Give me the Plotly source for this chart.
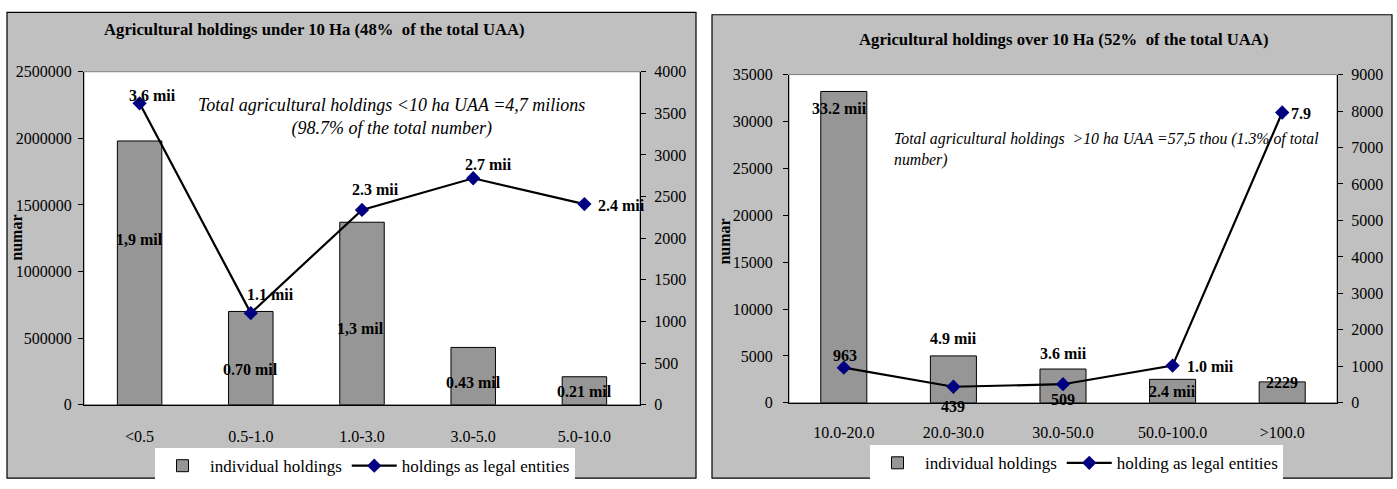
import plotly.graph_objects as go

# ---------------- data ----------------
left_categories = ["<0.5", "0.5-1.0", "1.0-3.0", "3.0-5.0", "5.0-10.0"]
left_individual = [1980000, 700000, 1370000, 430000, 210000]
left_individual_labels = ["1,9 mil", "0.70 mil", "1,3 mil", "0.43 mil", "0.21 mil"]
left_legal = [3620, 1100, 2340, 2720, 2410]
left_legal_labels = ["3.6 mii", "1.1 mii", "2.3 mii", "2.7 mii", "2.4 mii"]

right_categories = ["10.0-20.0", "20.0-30.0", "30.0-50.0", "50.0-100.0", ">100.0"]
right_individual = [33200, 5000, 3600, 2500, 2229]
right_individual_labels = ["33.2 mii", "4.9 mii", "3.6 mii", "2.4 mii", "2229"]
right_legal = [963, 439, 509, 1020, 7960]
right_legal_labels = ["963", "439", "509", "1.0 mii", "7.9"]

left_title = "Agricultural holdings under 10 Ha (48%  of the total UAA)"
right_title = "Agricultural holdings over 10 Ha (52%  of the total UAA)"
left_note = "Total agricultural holdings &lt;10 ha UAA =4,7 milions<br>(98.7% of the total number)"
right_note = "Total agricultural holdings  &gt;10 ha UAA =57,5 thou (1.3% of total<br>number)"

# ---------------- layout helpers (pixel -> paper) ----------------
W, H = 1397, 489
FONT = "Liberation Serif"


def px(x):
    return x / W


def py(y):
    return 1 - y / H


# label offsets (pixels) -- styling only
left_bar_shift = [(0, -99), (0, -58), (-2, -106), (0, -35), (0, -15)]
left_line_shift = [(13, 8), (20, 19), (13, 20), (15, 14), (37, -1)]
right_bar_shift = [(-4, -17), (0, 17), (0, 16), (0, -12), (0, -1)]
right_line_shift = [(1, 12), (0, -20), (0, -15), (38, -1), (19, -1)]

fig = go.Figure()

BAR_COLOR = "#969696"
NAVY = "#000080"

fig.add_trace(go.Bar(
    x=left_categories, y=left_individual, xaxis="x", yaxis="y",
    name="individual holdings", width=0.4,
    marker=dict(color=BAR_COLOR, line=dict(color="black", width=1)),
    legend="legend",
))
fig.add_trace(go.Scatter(
    x=left_categories, y=left_legal, xaxis="x", yaxis="y2",
    name="holdings as legal entities", mode="lines+markers",
    line=dict(color="black", width=2.2),
    marker=dict(symbol="diamond", size=11, color=NAVY),
    legend="legend",
))
fig.add_trace(go.Bar(
    x=right_categories, y=right_individual, xaxis="x2", yaxis="y3",
    name="individual holdings", width=0.42,
    marker=dict(color=BAR_COLOR, line=dict(color="black", width=1)),
    legend="legend2",
))
fig.add_trace(go.Scatter(
    x=right_categories, y=right_legal, xaxis="x2", yaxis="y4",
    name="holding as legal entities", mode="lines+markers",
    line=dict(color="black", width=2.2),
    marker=dict(symbol="diamond", size=11, color=NAVY),
    legend="legend2",
))

tickfont = dict(family=FONT, size=16, color="black")


def cat_axis(domain, anchor, cats, standoff):
    return dict(domain=domain, anchor=anchor, type="category",
                categoryorder="array", categoryarray=cats, range=[-0.5, 4.5],
                showline=True, linecolor="black", linewidth=1,
                ticks="", showgrid=False, zeroline=False,
                tickfont=tickfont, ticklabelstandoff=standoff, fixedrange=True)


def tick_overlay_x(over, anchor, inside):
    return dict(overlaying=over, anchor=anchor, type="linear", range=[-0.5, 4.5],
                tickmode="array", tickvals=[-0.5, 0.5, 1.5, 2.5, 3.5, 4.5],
                ticks="inside" if inside else "outside", ticklen=3 if inside else 5,
                tickcolor="black", showticklabels=False, showline=False,
                showgrid=False, zeroline=False, fixedrange=True)


def val_axis(domain, anchor, rng, dtick, side="left", overlaying=None, standoff=6):
    d = dict(anchor=anchor, range=rng, dtick=dtick, tick0=0, tickformat="d",
             side=side, showline=True, linecolor="black", linewidth=1,
             ticks="outside", ticklen=5, tickcolor="black", showgrid=False,
             zeroline=False, tickfont=tickfont, ticklabelstandoff=standoff,
             fixedrange=True)
    if overlaying:
        d["overlaying"] = overlaying
    else:
        d["domain"] = domain
    return d


def tick_overlay_y(over, anchor, rng, dtick, side):
    return dict(overlaying=over, anchor=anchor, range=rng, dtick=dtick, tick0=0,
                side=side, ticks="inside", ticklen=3, tickcolor="black",
                showticklabels=False, showline=False, showgrid=False,
                zeroline=False, fixedrange=True)


L_X = [px(84), px(640)]
L_Y = [py(411), py(66)]
R_X = [px(789), px(1337)]
R_Y = [py(409), py(69)]

fig.update_layout(
    xaxis=cat_axis(L_X, "y", left_categories, 17),
    yaxis=val_axis(L_Y, "x", [0, 2500000], 500000, standoff=3),
    yaxis2=val_axis(None, "x", [0, 4000], 500, side="right", overlaying="y", standoff=5),
    xaxis2=cat_axis(R_X, "y3", right_categories, 15),
    yaxis3=val_axis(R_Y, "x2", [0, 35000], 5000, standoff=7),
    yaxis4=val_axis(None, "x2", [0, 9000], 1000, side="right", overlaying="y3", standoff=5),
    # cross-tick overlays
    xaxis3=tick_overlay_x("x", "y", False),
    xaxis4=tick_overlay_x("x", "y", True),
    xaxis5=tick_overlay_x("x2", "y3", False),
    xaxis6=tick_overlay_x("x2", "y3", True),
    yaxis5=tick_overlay_y("y", "x", [0, 2500000], 500000, "left"),
    yaxis6=tick_overlay_y("y", "x", [0, 4000], 500, "right"),
    yaxis7=tick_overlay_y("y3", "x2", [0, 35000], 5000, "left"),
    yaxis8=tick_overlay_y("y3", "x2", [0, 9000], 1000, "right"),
)

legend_common = dict(orientation="h", xanchor="left", yanchor="top",
                     bgcolor="white", borderwidth=0,
                     font=dict(family=FONT, size=17, color="black"),
                     itemwidth=45, tracegroupgap=0, traceorder="normal")
fig.update_layout(
    legend=dict(x=px(155), y=py(456), **legend_common),
    legend2=dict(x=px(870), y=py(453), **legend_common),
)

# frames and plot-area backgrounds
shapes = [
    dict(type="rect", xref="paper", yref="paper", x0=px(7), x1=px(696), y0=py(487), y1=py(4.5),
         fillcolor="#C0C0C0", line=dict(color="black", width=1.2), layer="below"),
    dict(type="rect", xref="paper", yref="paper", x0=px(712), x1=px(1392), y0=py(487), y1=py(7),
         fillcolor="#C0C0C0", line=dict(color="black", width=1.2), layer="below"),
    dict(type="rect", xref="paper", yref="paper", x0=L_X[0], x1=L_X[1], y0=L_Y[0], y1=L_Y[1],
         fillcolor="white", line=dict(color="#808080", width=1), layer="below"),
    dict(type="rect", xref="paper", yref="paper", x0=R_X[0], x1=R_X[1], y0=R_Y[0], y1=R_Y[1],
         fillcolor="white", line=dict(color="#808080", width=1), layer="below"),
]

ann = []
bold16 = dict(family=FONT, size=16, color="black")
title_font = dict(family=FONT, size=16.7, color="black")
ann.append(dict(xref="paper", yref="paper", x=px(314), y=py(22), text="<b>" + left_title + "</b>",
                showarrow=False, font=title_font, xanchor="center", yanchor="middle"))
ann.append(dict(xref="paper", yref="paper", x=px(1063), y=py(33), text="<b>" + right_title + "</b>",
                showarrow=False, font=title_font, xanchor="center", yanchor="middle"))
ann.append(dict(xref="paper", yref="paper", x=px(391), y=py(113), text="<i>" + left_note + "</i>",
                showarrow=False, font=dict(family=FONT, size=18, color="black"),
                xanchor="center", yanchor="middle", align="center"))
ann.append(dict(xref="paper", yref="paper", x=px(892), y=py(147), text="<i>" + right_note + "</i>",
                showarrow=False, font=dict(family=FONT, size=15.8, color="black"),
                xanchor="left", yanchor="middle", align="left"))
ann.append(dict(xref="paper", yref="paper", x=px(17), y=py(238), text="<b>numar</b>", textangle=-90,
                showarrow=False, font=bold16, xanchor="center", yanchor="middle"))
ann.append(dict(xref="paper", yref="paper", x=px(725), y=py(242), text="<b>numar</b>", textangle=-90,
                showarrow=False, font=bold16, xanchor="center", yanchor="middle"))


def add_labels(cats, vals, labels, shifts, xref, yref):
    for c, v, t, (dx, dy) in zip(cats, vals, labels, shifts):
        ann.append(dict(xref=xref, yref=yref, x=c, y=v, text="<b>" + t + "</b>",
                        showarrow=False, font=bold16, xshift=dx, yshift=dy,
                        xanchor="center", yanchor="middle"))


add_labels(left_categories, left_individual, left_individual_labels, left_bar_shift, "x", "y")
add_labels(left_categories, left_legal, left_legal_labels, left_line_shift, "x", "y2")
add_labels(right_categories, right_individual, right_individual_labels, right_bar_shift, "x2", "y3")
add_labels(right_categories, right_legal, right_legal_labels, right_line_shift, "x2", "y4")

fig.update_layout(
    width=W, height=H, autosize=False,
    margin=dict(l=0, r=0, t=0, b=0, pad=0),
    paper_bgcolor="white", plot_bgcolor="rgba(0,0,0,0)",
    font=dict(family=FONT, size=16, color="black"),
    shapes=shapes, annotations=ann,
    showlegend=True,
)

fig.write_html("out.html", config={"displayModeBar": False},
               post_script="document.body.style.margin='0';")
